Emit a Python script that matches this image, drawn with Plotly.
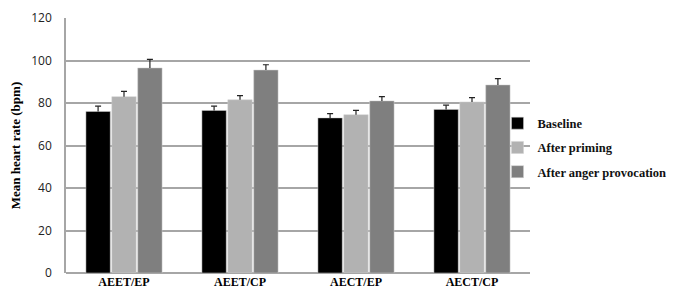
import plotly.graph_objects as go

categories = ["AEET/EP", "AEET/CP", "AECT/EP", "AECT/CP"]
baseline = [76, 76.5, 73, 77]
baseline_err = [2.5, 2, 2, 2]
priming = [83, 81.5, 74.5, 80.5]
priming_err = [2.5, 2, 2, 2]
anger = [96.5, 95.5, 81, 88.5]
anger_err = [4, 2.5, 2, 3]
y_ticks = [0, 20, 40, 60, 80, 100, 120]

series = [
    ("Baseline", baseline, baseline_err, "#000000"),
    ("After priming", priming, priming_err, "#b2b2b2"),
    ("After anger provocation", anger, anger_err, "#7f7f7f"),
]

fig = go.Figure()
for i, (name, vals, errs, col) in enumerate(series):
    fig.add_trace(go.Bar(
        x=categories, y=vals, name=f"<b>{name}</b>", legendgroup=f"g{i}",
        offsetgroup=str(i),
        marker=dict(color=col, line=dict(color="#d0d0d0", width=0.5)),
        error_y=dict(type="data", symmetric=False, array=errs,
                     arrayminus=[0] * len(errs), color="#222222",
                     thickness=1.2, width=0),
    ))
    # caps only at the top of the error bar
    fig.add_trace(go.Bar(
        x=categories, y=[v + e for v, e in zip(vals, errs)],
        offsetgroup=str(i), showlegend=False, hoverinfo="skip",
        marker=dict(color="rgba(0,0,0,0)", line=dict(width=0)),
        error_y=dict(type="data", symmetric=False, array=[0] * len(errs),
                     arrayminus=[0] * len(errs), color="#222222",
                     thickness=1.2, width=3),
    ))

fig.update_layout(
    width=680, height=294,
    margin=dict(l=58, r=158, t=10, b=29, autoexpand=False),
    plot_bgcolor="white", paper_bgcolor="white",
    barmode="group", bargap=0.33, bargroupgap=0.06,
    font=dict(family="Liberation Serif", color="#000000"),
    legend=dict(x=0.93, y=0.645, yanchor="top", xanchor="left",
                bgcolor="rgba(0,0,0,0)",
                font=dict(family="Liberation Serif", size=12.5, color="#111111"),
                tracegroupgap=5, itemwidth=30),
    xaxis=dict(showline=False, ticks="", showgrid=False, automargin=False,
               tickfont=dict(family="Liberation Serif", size=12, color="#000000"),
               tickprefix="<b>", ticksuffix="</b>"),
    yaxis=dict(range=[0, 120], tickvals=y_ticks, showgrid=True, automargin=False,
               gridcolor="#a6a6a6", gridwidth=1.5, zeroline=True,
               zerolinecolor="#a6a6a6", zerolinewidth=1.5,
               showline=True, linecolor="#a6a6a6", linewidth=1.5,
               ticks="", ticklabelstandoff=10,
               tickfont=dict(family="Open Sans", size=12, color="#222222"),
               tickprefix="<b>", ticksuffix="</b>",
               title=dict(text="<b>Mean heart rate (bpm)</b>", standoff=8,
                          font=dict(family="Liberation Serif", size=13))),
)

fig.write_html("out.html")
